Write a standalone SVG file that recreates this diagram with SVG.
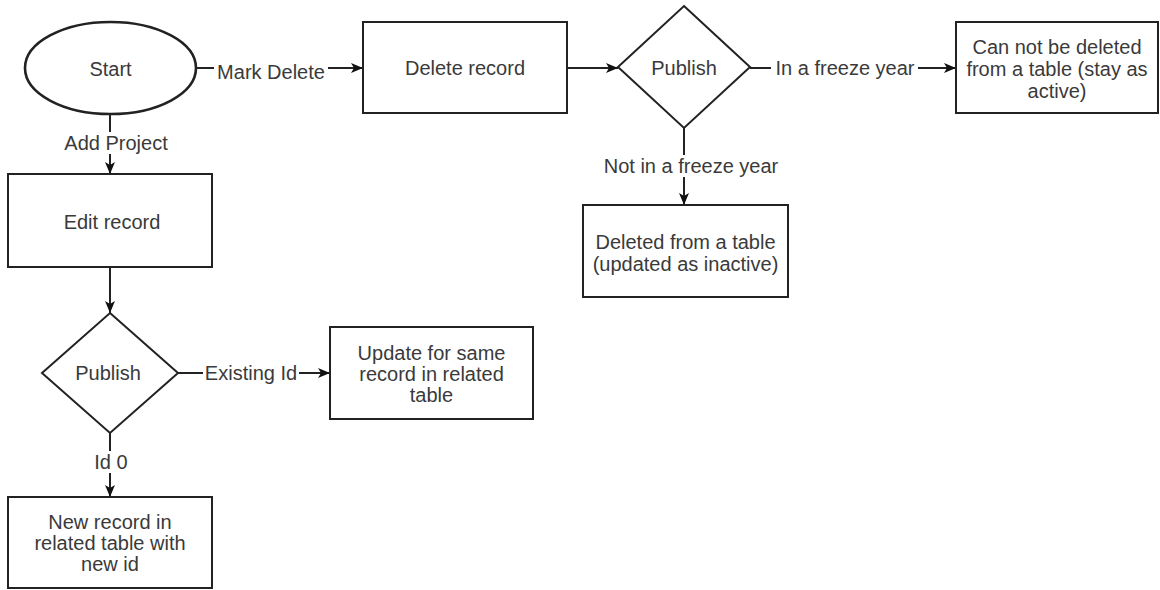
<svg xmlns="http://www.w3.org/2000/svg" width="1160" height="590" viewBox="0 0 1160 590">
  <style>
    .shape { fill: #ffffff; stroke: #222222; stroke-width: 2; }
    .start { stroke-width: 2.6; }
    .txt { font-family: "Liberation Sans", Arial, sans-serif; font-size: 20px; fill: #3a3a3a; text-anchor: middle; }
    .edge { fill: none; stroke: #222222; stroke-width: 2; marker-end: url(#arrow); }
    .lbl-bg { fill: #ffffff; stroke: none; }
  </style>
  <defs>
    <marker id="arrow" viewBox="0 0 12 10" refX="12" refY="5" markerWidth="12" markerHeight="10" markerUnits="userSpaceOnUse" orient="auto">
      <path d="M0,0 L12,5 L0,10 L3,5 Z" fill="#111111"/>
    </marker>
  </defs>
  <rect width="1160" height="590" fill="#ffffff"/>

  <!-- connectors -->
  <g id="connectors">
    <path class="edge" d="M196,68 L363,68"/>
    <path class="edge" d="M567,68 L618,68"/>
    <path class="edge" d="M750,68 L956,68"/>
    <path class="edge" d="M684,128 L684,205"/>
    <path class="edge" d="M110,114 L110,174"/>
    <path class="edge" d="M110,267 L110,313"/>
    <path class="edge" d="M178,373 L330,373"/>
    <path class="edge" d="M110,433 L110,497"/>

    <!-- edge labels -->
    <rect class="lbl-bg" x="214" y="60" width="114" height="22"/>
    <text class="txt" x="271" y="79">Mark Delete</text>
    <rect class="lbl-bg" x="771" y="57" width="147" height="22"/>
    <text class="txt" x="845" y="75">In a freeze year</text>
    <rect class="lbl-bg" x="600" y="155" width="183" height="22"/>
    <text class="txt" x="691" y="173">Not in a freeze year</text>
    <rect class="lbl-bg" x="61" y="132" width="110" height="22"/>
    <text class="txt" x="116" y="150">Add Project</text>
    <rect class="lbl-bg" x="203" y="362" width="96" height="22"/>
    <text class="txt" x="251" y="380">Existing Id</text>
    <rect class="lbl-bg" x="92" y="451" width="38" height="22"/>
    <text class="txt" x="111" y="469">Id 0</text>
  </g>

  <g id="start">
    <ellipse class="shape start" cx="110.5" cy="68" rx="85.5" ry="46"/>
    <text class="txt" x="110.5" y="76">Start</text>
  </g>

  <g id="delete-record">
    <rect class="shape" x="363" y="22" width="204" height="91"/>
    <text class="txt" x="465" y="75">Delete record</text>
  </g>

  <g id="publish-delete">
    <polygon class="shape" points="684,6 750,67 684,128 618,67"/>
    <text class="txt" x="684" y="75">Publish</text>
  </g>

  <g id="cannot-delete">
    <rect class="shape" x="956" y="22" width="202" height="91"/>
    <text class="txt" x="1057" y="54">Can not be deleted</text>
    <text class="txt" x="1057" y="76">from a table (stay as</text>
    <text class="txt" x="1057" y="98">active)</text>
  </g>

  <g id="deleted-from-table">
    <rect class="shape" x="583" y="205" width="205" height="92"/>
    <text class="txt" x="685.5" y="249">Deleted from a table</text>
    <text class="txt" x="685.5" y="271">(updated as inactive)</text>
  </g>

  <g id="edit-record">
    <rect class="shape" x="8" y="174" width="204" height="93"/>
    <text class="txt" x="112" y="229">Edit record</text>
  </g>

  <g id="publish-edit">
    <polygon class="shape" points="110,313 178,373 110,433 42,373"/>
    <text class="txt" x="108" y="380">Publish</text>
  </g>

  <g id="update-same-record">
    <rect class="shape" x="330" y="327" width="203" height="92"/>
    <text class="txt" x="431.5" y="360">Update for same</text>
    <text class="txt" x="431.5" y="381">record in related</text>
    <text class="txt" x="431.5" y="402">table</text>
  </g>

  <g id="new-record">
    <rect class="shape" x="8" y="497" width="204" height="91"/>
    <text class="txt" x="110" y="529">New record in</text>
    <text class="txt" x="110" y="550">related table with</text>
    <text class="txt" x="110" y="571">new id</text>
  </g>
</svg>
